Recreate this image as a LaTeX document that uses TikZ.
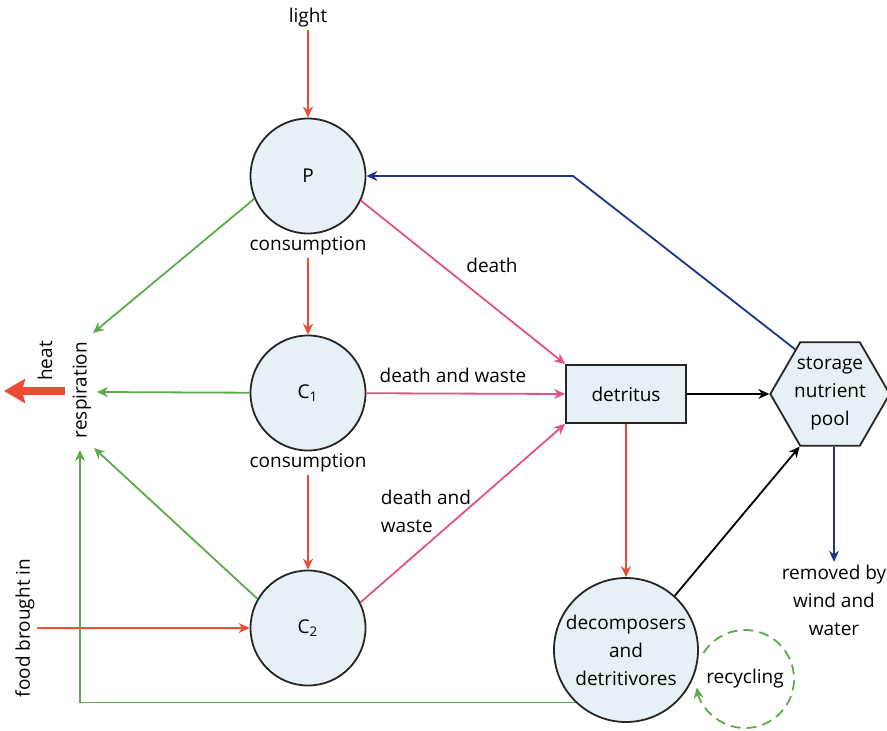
\documentclass[tikz,border=0pt]{standalone}
\usepackage{fontspec}
\setmainfont{Open Sans}
\usepackage{tikz}
\usetikzlibrary{arrows.meta,shapes.geometric}

\definecolor{cellfill}{HTML}{E6F0F5}
\definecolor{flowred}{HTML}{EE4B35}
\definecolor{flowgreen}{HTML}{5DAA4B}
\definecolor{flowpink}{HTML}{E5508A}
\definecolor{flowblue}{HTML}{1B3688}

\begin{document}
\begin{tikzpicture}[x=0.5pt, y=-0.5pt, >={Stealth[length=5.5pt,width=5pt]}, line width=0.9pt,
    font=\fontsize{9.5}{14}\selectfont,
    pool/.style={circle, draw=black!85, fill=cellfill, minimum size=57.5pt, inner sep=0pt},
    lbl/.style={inner sep=1pt, align=center}]
        \useasboundingbox (0,0) rectangle (887,731);
        % trophic levels
        \node[lbl] (light) at (308,18) {light};
        \node[pool] (P) at (308,176) {P};
        \node[lbl] (cons1) at (308,246) {consumption};
        \node[pool] (C1) at (308,393) {C\textsubscript{1}};
        \node[lbl] (cons2) at (308,463) {consumption};
        \node[pool] (C2) at (308,628) {C\textsubscript{2}};
        \node[lbl, rotate=90] (food) at (25,628) {food brought in};
        \node[lbl, rotate=90] (resp) at (82,390) {respiration};
        \node[lbl, rotate=90] (heat) at (45,361) {heat};
        % detritus side
        \node[rectangle, draw=black!85, fill=cellfill, minimum width=60pt, minimum height=29pt] (det) at (626,394) {detritus};
        \node[regular polygon, regular polygon sides=6, draw=black!85, fill=cellfill, minimum size=55pt, inner sep=0pt, align=center] (hex) at (830,394) {storage\\nutrient\\pool};
        \node[pool, minimum size=72pt, align=center] (dec) at (626,650) {decomposers\\and\\detritivores};
        \node[lbl] (recyc) at (745,679) {recycling};
        \node[lbl] (removed) at (834,600) {removed by\\wind and\\water};
        \node[lbl] (lDeath) at (492,265) {death};
        \node[lbl] (lWaste1) at (453,375) {death and waste};
        \node[lbl, align=left, anchor=west] (lWaste2) at (378,511) {death and\\waste};
        \coordinate (rP) at (93,333);
        \coordinate (rC1) at (97,392);
        \coordinate (rC2) at (94,448);
        \coordinate (rB) at (80,450);
        \coordinate (bend) at (573,176);
        \coordinate (heatA) at (65,391);
        \coordinate (heatB) at (4,391);

        \draw[->, flowred] (light) -- (P);
        \draw[->, flowred] (cons1) -- (C1);
        \draw[->, flowred] (cons2) -- (C2);
        \draw[->, flowred] (food.south) -- (C2);
        \draw[->, flowred] (det) -- (dec);
        \draw[-{Stealth[length=10.5pt,width=12pt,inset=1.5pt]}, flowred, line width=4pt] (heatA) -- (heatB);

        \draw[->, flowgreen] (P.203) -- (rP);
        \draw[->, flowgreen] (C1) -- (rC1);
        \draw[->, flowgreen] (C2.150) -- (rC2);
        \draw[->, flowgreen] (dec.226) -| (rB);
        \draw[->, flowgreen, dash pattern=on 5pt off 3pt] (recyc.center) ++(-148:49) arc[start angle=-148, end angle=170, radius=49];

        \draw[->, flowpink] (P.335) -- (det.north west);
        \draw[->, flowpink] (C1) -- (det.west);
        \draw[->, flowpink] (C2.26) -- (det.south west);

        \draw[->, black] (det) -- (hex);
        \draw[->, black] (dec.48) -- (hex.240);
        \draw[->, flowblue] (hex.128) -- (bend) -- (P);
        \draw[->, flowblue] (removed.north |- hex.south) -- (removed.north);
    \end{tikzpicture}
\end{document}
